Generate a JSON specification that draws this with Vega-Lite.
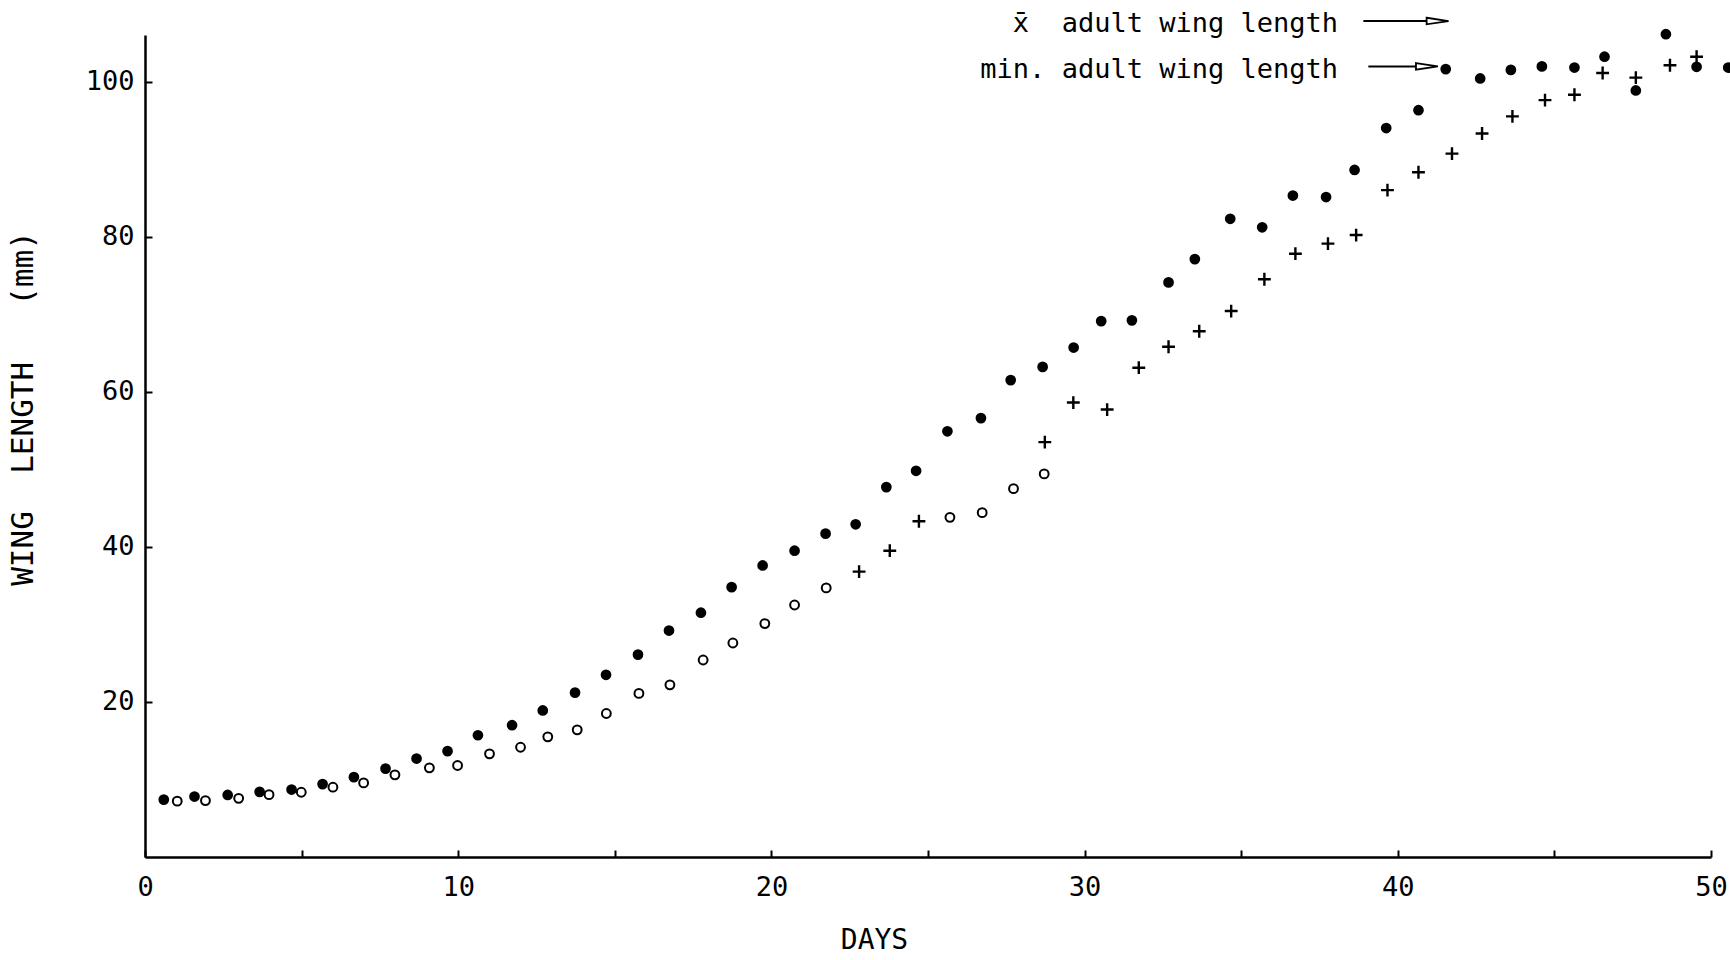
{
  "$schema": "https://vega.github.io/schema/vega-lite/v6.json",
  "width": 1566,
  "height": 822,
  "autosize": {"type": "none"},
  "padding": {"left": 145, "top": 35, "right": 19, "bottom": 103},
  "background": "white",
  "config": {"view": {"stroke": null}, "font": "DejaVu Sans Mono"},
  "datasets": {
    "filled": [
      {"day": 0.6, "wing": 7.4}, {"day": 1.58, "wing": 7.8}, {"day": 2.64, "wing": 8.0}, {"day": 3.66, "wing": 8.4},
      {"day": 4.68, "wing": 8.7}, {"day": 5.67, "wing": 9.4}, {"day": 6.67, "wing": 10.3}, {"day": 7.68, "wing": 11.4},
      {"day": 8.67, "wing": 12.7}, {"day": 9.66, "wing": 13.65}, {"day": 10.63, "wing": 15.7}, {"day": 11.72, "wing": 17.0},
      {"day": 12.7, "wing": 18.9}, {"day": 13.73, "wing": 21.2}, {"day": 14.72, "wing": 23.5}, {"day": 15.74, "wing": 26.1},
      {"day": 16.73, "wing": 29.2}, {"day": 17.75, "wing": 31.5}, {"day": 18.73, "wing": 34.8}, {"day": 19.72, "wing": 37.6},
      {"day": 20.74, "wing": 39.5}, {"day": 21.73, "wing": 41.7}, {"day": 22.69, "wing": 42.9}, {"day": 23.67, "wing": 47.7},
      {"day": 24.62, "wing": 49.8}, {"day": 25.62, "wing": 54.9}, {"day": 26.69, "wing": 56.6}, {"day": 27.64, "wing": 61.5},
      {"day": 28.66, "wing": 63.2}, {"day": 29.65, "wing": 65.7}, {"day": 30.53, "wing": 69.1}, {"day": 31.51, "wing": 69.2},
      {"day": 32.68, "wing": 74.1}, {"day": 33.52, "wing": 77.1}, {"day": 34.65, "wing": 82.3}, {"day": 35.67, "wing": 81.2},
      {"day": 36.65, "wing": 85.3}, {"day": 37.71, "wing": 85.1}, {"day": 38.62, "wing": 88.6}, {"day": 39.63, "wing": 94.0},
      {"day": 40.66, "wing": 96.3}, {"day": 41.53, "wing": 101.6}, {"day": 42.63, "wing": 100.4}, {"day": 43.61, "wing": 101.5},
      {"day": 44.6, "wing": 101.95}, {"day": 45.64, "wing": 101.8}, {"day": 46.6, "wing": 103.2}, {"day": 47.6, "wing": 98.85},
      {"day": 48.56, "wing": 106.1}, {"day": 49.54, "wing": 101.9}, {"day": 50.55, "wing": 101.8}
    ],
    "open": [
      {"day": 1.03, "wing": 7.2}, {"day": 1.93, "wing": 7.27}, {"day": 2.99, "wing": 7.57}, {"day": 3.96, "wing": 8.04},
      {"day": 4.99, "wing": 8.35}, {"day": 6.0, "wing": 9.0}, {"day": 6.98, "wing": 9.55}, {"day": 7.98, "wing": 10.6},
      {"day": 9.08, "wing": 11.5}, {"day": 9.98, "wing": 11.8}, {"day": 11.0, "wing": 13.3}, {"day": 11.99, "wing": 14.15},
      {"day": 12.86, "wing": 15.5}, {"day": 13.8, "wing": 16.4}, {"day": 14.73, "wing": 18.5}, {"day": 15.77, "wing": 21.1},
      {"day": 16.76, "wing": 22.2}, {"day": 17.82, "wing": 25.4}, {"day": 18.77, "wing": 27.6}, {"day": 19.79, "wing": 30.1},
      {"day": 20.74, "wing": 32.5}, {"day": 21.75, "wing": 34.7}, {"day": 25.7, "wing": 43.8}, {"day": 26.73, "wing": 44.4},
      {"day": 27.73, "wing": 47.5}, {"day": 28.71, "wing": 49.4}
    ],
    "cross": [
      {"day": 22.8, "wing": 36.8}, {"day": 23.78, "wing": 39.5}, {"day": 24.71, "wing": 43.3}, {"day": 28.73, "wing": 53.5},
      {"day": 29.64, "wing": 58.6}, {"day": 30.72, "wing": 57.7}, {"day": 31.73, "wing": 63.1}, {"day": 32.68, "wing": 65.8},
      {"day": 33.66, "wing": 67.8}, {"day": 34.68, "wing": 70.4}, {"day": 35.74, "wing": 74.5}, {"day": 36.73, "wing": 77.8},
      {"day": 37.77, "wing": 79.1}, {"day": 38.67, "wing": 80.2}, {"day": 39.67, "wing": 86.0}, {"day": 40.66, "wing": 88.3},
      {"day": 41.73, "wing": 90.7}, {"day": 42.69, "wing": 93.3}, {"day": 43.66, "wing": 95.5}, {"day": 44.7, "wing": 97.6},
      {"day": 45.64, "wing": 98.3}, {"day": 46.54, "wing": 101.1}, {"day": 47.6, "wing": 100.5}, {"day": 48.69, "wing": 102.1},
      {"day": 49.54, "wing": 103.2}
    ],
    "labels": [
      {"day": 38.09, "wing": 106.4, "label": "x\u0304\u00a0\u00a0adult wing length"},
      {"day": 38.09, "wing": 100.4, "label": "min. adult wing length"}
    ],
    "arrows": [
      {"day": 38.9, "day2": 40.95, "wing": 107.8},
      {"day": 39.06, "day2": 40.6, "wing": 101.95}
    ],
    "heads": [
      {"day": 41.27, "wing": 107.8},
      {"day": 40.93, "wing": 101.95}
    ]
  },
  "layer": [
    {
      "data": {"name": "filled"},
      "mark": {"type": "point", "shape": "circle", "filled": true, "color": "black", "size": 115, "opacity": 1},
      "encoding": {
        "x": {
          "field": "day", "type": "quantitative",
          "scale": {"domain": [0, 50], "nice": false, "zero": false},
          "axis": {
            "values": [0, 5, 10, 15, 20, 25, 30, 35, 40, 45, 50],
            "labelExpr": "datum.value % 10 === 0 ? datum.label : ''",
            "tickSize": -7, "tickWidth": 2, "tickColor": "black",
            "domainColor": "black", "domainWidth": 2.5, "grid": false,
            "labelFont": "DejaVu Sans Mono", "labelFontSize": 27, "labelColor": "black",
            "labelPadding": 24, "labelFlush": false, "labelOverlap": false,
            "title": "DAYS", "titleFont": "DejaVu Sans Mono", "titleFontSize": 28,
            "titleFontWeight": "normal", "titleColor": "black",
            "titleX": 729, "titleY": 69, "titleBaseline": "top", "titleAlign": "center"
          }
        },
        "y": {
          "field": "wing", "type": "quantitative",
          "scale": {"domain": [0, 106], "nice": false, "zero": false},
          "axis": {
            "values": [20, 40, 60, 80, 100],
            "tickSize": -7, "tickWidth": 2, "tickColor": "black",
            "domainColor": "black", "domainWidth": 2.5, "grid": false,
            "labelFont": "DejaVu Sans Mono", "labelFontSize": 27, "labelColor": "black",
            "labelPadding": 18, "labelOverlap": false,
            "title": "WING\u00a0\u00a0LENGTH\u00a0\u00a0\u00a0(mm)", "titleFont": "DejaVu Sans Mono", "titleFontSize": 31,
            "titleFontWeight": "normal", "titleColor": "black",
            "titleX": -106, "titleY": 373, "titleBaseline": "bottom", "titleAlign": "center", "titleAngle": -90
          }
        }
      }
    },
    {
      "data": {"name": "open"},
      "mark": {"type": "point", "shape": "circle", "filled": false, "stroke": "black", "strokeWidth": 2, "size": 78, "opacity": 1},
      "encoding": {
        "x": {"field": "day", "type": "quantitative"},
        "y": {"field": "wing", "type": "quantitative"}
      }
    },
    {
      "data": {"name": "cross"},
      "mark": {"type": "point", "shape": "M-1,0L1,0M0,-1L0,1", "filled": false, "stroke": "black", "strokeWidth": 2.4, "size": 165, "opacity": 1},
      "encoding": {
        "x": {"field": "day", "type": "quantitative"},
        "y": {"field": "wing", "type": "quantitative"}
      }
    },
    {
      "data": {"name": "arrows"},
      "mark": {"type": "rule", "color": "black", "strokeWidth": 2},
      "encoding": {
        "x": {"field": "day", "type": "quantitative"},
        "x2": {"field": "day2"},
        "y": {"field": "wing", "type": "quantitative"}
      }
    },
    {
      "data": {"name": "heads"},
      "mark": {"type": "point", "shape": "M-1,-0.3L1,0L-1,0.3Z", "filled": true, "fill": "white", "stroke": "black", "strokeWidth": 1.8, "size": 480, "opacity": 1},
      "encoding": {
        "x": {"field": "day", "type": "quantitative"},
        "y": {"field": "wing", "type": "quantitative"}
      }
    },
    {
      "data": {"name": "labels"},
      "mark": {"type": "text", "align": "right", "baseline": "alphabetic", "font": "DejaVu Sans Mono", "fontSize": 27, "color": "black"},
      "encoding": {
        "x": {"field": "day", "type": "quantitative"},
        "y": {"field": "wing", "type": "quantitative"},
        "text": {"field": "label"}
      }
    }
  ]
}
